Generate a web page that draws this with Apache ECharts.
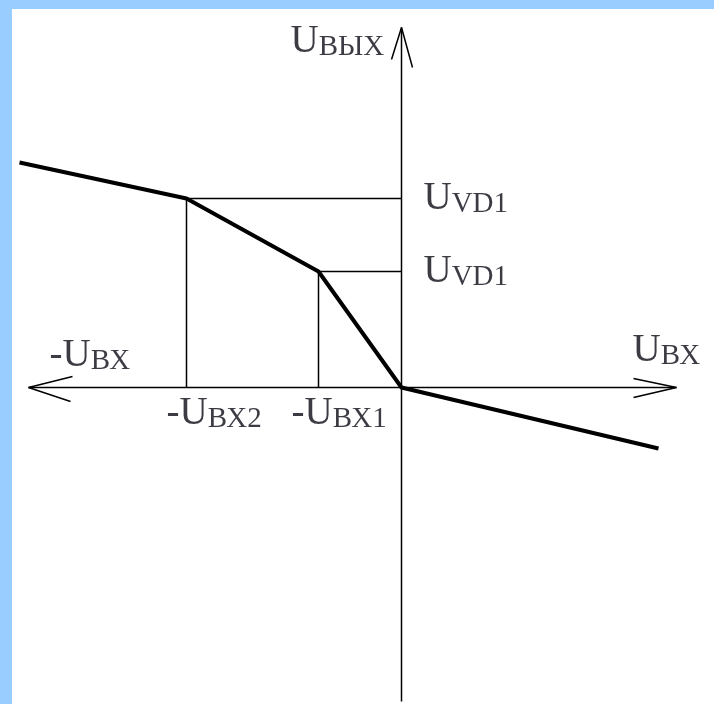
<!DOCTYPE html>
<html lang="ru">

<head>
  <meta charset="UTF-8">
  <title>Передаточная характеристика</title>
  <style>
    body {
      margin: 0;
      background: #99ccff;
    }

    #root {
      position: absolute;
      left: 12px;
      top: 9px;
      width: 702px;
      height: 695px;
    }
  </style>
</head>

<body>
  <div id="root"></div>
</body>
<script src="https://cdn.jsdelivr.net/npm/echarts@6/dist/echarts.min.js"></script>
<script>
  // координаты в пикселях относительно начала координат, ось Y вверх
  const curveX = [-382, -215, -83, 0, 257]
  const curveY = [225, 189, 116, 0, -61]

  // точки излома: -Uвх2, -Uвх1 и уровни Uvd1
  const breakX = [-215, -83]
  const breakY = [189, 116]

  // оси и стрелки
  const axisX = [-373, 275]
  const axisY = [-314, 360]
  const arrowUp = [[-10, 328], [0, 360], [11, 320]]
  const arrowLeft = [[-329, 11], [-373, 0], [-331, -14]]
  const arrowRight = [[232, 9], [275, 0], [232, -10]]

  // подписи: большая буква + малые буквы
  const labelBig = ['U', 'U', 'U', '-U', 'U', '-U', '-U']
  const labelSmall = ['ВЫХ', 'VD1', 'VD1', 'ВХ', 'ВХ', 'ВХ2', 'ВХ1']
  const labelX = [-111, 22, 22, -352, 231, -235, -110]
  const labelY = [326, 169, 96, 12, 17, -46, -46]

  let myChart = echarts.init(document.getElementById('root'))

  const thin = { color: '#000', width: 1.5 }

  function seg(points, style) {
    return {
      type: 'line',
      data: points,
      symbol: 'none',
      silent: true,
      lineStyle: style
    }
  }

  let series = [
    seg([[axisX[0], 0], [axisX[1], 0]], thin),
    seg([[0, axisY[0]], [0, axisY[1]]], thin),
    seg(arrowUp, thin),
    seg(arrowLeft, thin),
    seg(arrowRight, thin)
  ]

  breakX.forEach((bx, i) => {
    series.push(seg([[bx, 0], [bx, breakY[i]], [0, breakY[i]]], thin))
  })

  series.push(seg(curveX.map((x, i) => [x, curveY[i]]), { color: '#000', width: 4, join: 'round' }))

  series.push({
    type: 'scatter',
    symbolSize: 0,
    silent: true,
    data: labelX.map((x, i) => [x, labelY[i], labelBig[i], labelSmall[i]]),
    label: {
      show: true,
      position: [0, 0],
      align: 'left',
      verticalAlign: 'bottom',
      formatter: p => '{a|' + p.value[2] + '}{b|' + p.value[3] + '}',
      rich: {
        a: {
          fontFamily: 'Liberation Serif',
          fontSize: 39,
          lineHeight: 39,
          verticalAlign: 'bottom',
          color: '#0a0a14'
        },
        b: {
          fontFamily: 'Liberation Serif',
          fontSize: 29,
          lineHeight: 33,
          verticalAlign: 'bottom',
          color: '#0a0a14'
        }
      }
    }
  })

  let option = {
    backgroundColor: '#fff',
    animation: false,
    grid: { left: 0, right: 0, top: 0, bottom: 0 },
    xAxis: {
      type: 'value',
      min: -389.5,
      max: 312.5,
      show: false
    },
    yAxis: {
      type: 'value',
      min: -316.5,
      max: 378.5,
      show: false
    },
    series: series
  }

  myChart.setOption(option)
</script>

</html>
